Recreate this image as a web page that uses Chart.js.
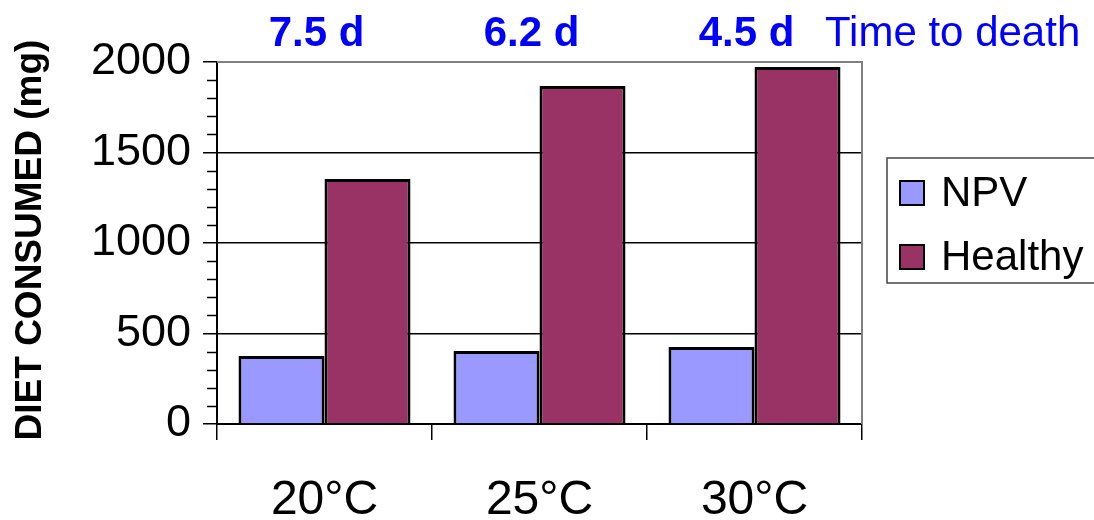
<!DOCTYPE html>
<html>
<head>
<meta charset="utf-8">
<script src="https://cdn.jsdelivr.net/npm/chart.js@4/dist/chart.umd.min.js"></script>
<style>
  body { margin: 0; background: #fff; }
  #wrap { width: 1094px; height: 520px; }
</style>
</head>
<body>
<div id="wrap"><canvas id="diet-chart" width="1094" height="520"></canvas></div>
<script>
// 数据
const temps = ['20°C', '25°C', '30°C'];
const npvDiet = [376, 403, 425];
const healthyDiet = [1354, 1867, 1972];
const deathTimes = ['7.5 d', '6.2 d', '4.5 d'];
const yTicks = [0, 500, 1000, 1500, 2000];

const FONT = '"Liberation Sans", Arial, sans-serif';
const BLUE = '#0000FF';

// 注释、图例、次刻度
const extras = {
    id: 'extras',
    afterDraw(chart) {
        const ctx = chart.ctx;
        const area = chart.chartArea;
        const x = chart.scales.x;
        const y = chart.scales.y;
        ctx.save();

        // 外框 (上、右)
        ctx.strokeStyle = '#808080';
        ctx.lineWidth = 2;
        ctx.beginPath();
        ctx.moveTo(area.left, area.top);
        ctx.lineTo(area.right, area.top);
        ctx.lineTo(area.right, area.bottom);
        ctx.stroke();

        // 次刻度
        ctx.strokeStyle = '#000';
        ctx.lineWidth = 1.5;
        for (let v = 100; v < 2000; v += 100) {
            if (v % 500 === 0) continue;
            const py = Math.round(y.getPixelForValue(v)) + 0.5;
            ctx.beginPath();
            ctx.moveTo(area.left - 10, py);
            ctx.lineTo(area.left, py);
            ctx.stroke();
        }

        // Y轴标题
        ctx.fillStyle = '#000';
        ctx.font = 'bold 37px ' + FONT;
        ctx.textAlign = 'center';
        ctx.textBaseline = 'middle';
        ctx.translate(31, (area.top + area.bottom) / 2 - 3);
        ctx.rotate(-Math.PI / 2);
        ctx.fillText('DIET CONSUMED (mg)', 0, 0);
        ctx.setTransform(1, 0, 0, 1, 0, 0);

        // 死亡时间
        ctx.fillStyle = BLUE;
        ctx.textBaseline = 'alphabetic';
        ctx.font = 'bold 42px ' + FONT;
        deathTimes.forEach((t, i) => {
            ctx.fillText(t, x.getPixelForValue(i) - 8, 46);
        });
        ctx.font = '42px ' + FONT;
        ctx.textAlign = 'left';
        ctx.fillText('Time to death', 825, 46);

        // 图例
        ctx.strokeStyle = '#444';
        ctx.lineWidth = 1.5;
        ctx.strokeRect(887, 158, 230, 125);
        const items = chart.data.datasets;
        items.forEach((ds, i) => {
            const cy = 193 + i * 64;
            ctx.fillStyle = ds.backgroundColor;
            ctx.fillRect(900, cy - 12, 24, 24);
            ctx.strokeStyle = '#000';
            ctx.lineWidth = 2;
            ctx.strokeRect(900, cy - 12, 24, 24);
            ctx.fillStyle = '#000';
            ctx.font = '42px ' + FONT;
            ctx.textBaseline = 'middle';
            ctx.fillText(ds.label, 941, cy + 1);
        });
        ctx.restore();
    }
};

new Chart(document.getElementById('diet-chart'), {
    type: 'bar',
    data: {
        labels: temps,
        datasets: [{
            label: 'NPV',
            data: npvDiet,
            backgroundColor: '#9999FF',
            borderColor: '#000',
            borderWidth: 3,
            categoryPercentage: 0.8,
            barPercentage: 1.0
        }, {
            label: 'Healthy',
            data: healthyDiet,
            backgroundColor: '#993366',
            borderColor: '#000',
            borderWidth: 3,
            categoryPercentage: 0.8,
            barPercentage: 1.0
        }]
    },
    options: {
        responsive: false,
        animation: false,
        layout: { padding: { left: 0, top: 62, right: 232, bottom: 0 } },
        plugins: {
            legend: { display: false },
            tooltip: { enabled: false }
        },
        scales: {
            x: {
                afterFit(scale) { scale.height = 96; },
                border: { color: '#000', width: 2 },
                grid: {
                    offset: true,
                    drawOnChartArea: false,
                    color: '#000',
                    lineWidth: 1.5,
                    tickLength: 16
                },
                ticks: {
                    color: '#000',
                    padding: 32,
                    font: { family: FONT, size: 48 }
                }
            },
            y: {
                min: 0,
                max: 2000,
                afterFit(scale) { scale.width = 217; },
                afterBuildTicks(scale) {
                    scale.ticks = yTicks.map(v => ({ value: v }));
                },
                border: { color: '#000', width: 2 },
                grid: {
                    color(c) {
                        const v = c.tick && c.tick.value;
                        return (v > 0 && v < 2000) ? '#000' : 'rgba(0,0,0,0)';
                    },
                    tickColor: '#000',
                    lineWidth: 1.5,
                    tickLength: 14
                },
                ticks: {
                    color: '#000',
                    padding: 12,
                    font: { family: FONT, size: 45 },
                    callback: v => String(v)
                }
            }
        }
    },
    plugins: [extras]
});
</script>
</body>
</html>
